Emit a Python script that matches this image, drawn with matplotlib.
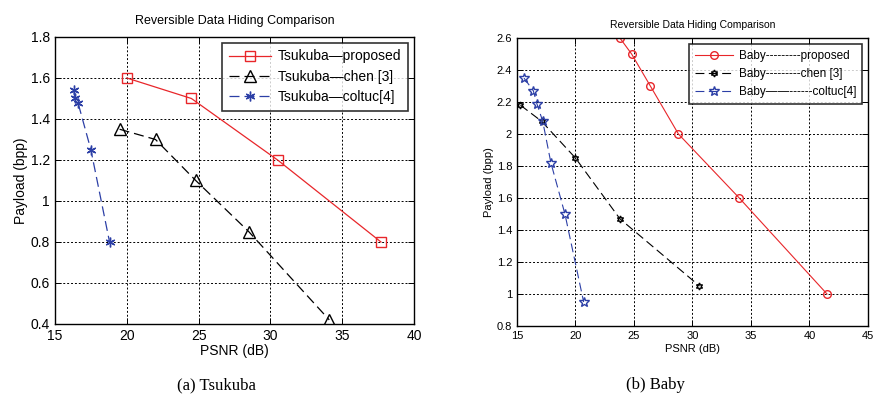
import matplotlib
matplotlib.use("Agg")
import matplotlib.pyplot as plt

# ---- data: (a) Tsukuba ----
ts_prop_x = [20.0, 24.5, 30.5, 37.7]
ts_prop_y = [1.6, 1.5, 1.2, 0.8]
ts_chen_x = [19.5, 22.0, 24.8, 28.5, 34.1]
ts_chen_y = [1.35, 1.30, 1.10, 0.85, 0.42]
ts_colt_x = [16.3, 16.4, 16.6, 17.5, 18.8]
ts_colt_y = [1.54, 1.50, 1.48, 1.25, 0.80]
ts_xticks = [15, 20, 25, 30, 35, 40]
ts_yticks = [0.4, 0.6, 0.8, 1.0, 1.2, 1.4, 1.6, 1.8]
ts_yticklabels = ["0.4", "0.6", "0.8", "1", "1.2", "1.4", "1.6", "1.8"]
ts_labels = ["Tsukuba\u2014proposed", "Tsukuba\u2014chen [3]", "Tsukuba\u2014coltuc[4]"]

# ---- data: (b) Baby ----
bb_prop_x = [23.8, 24.8, 26.4, 28.8, 34.0, 41.5]
bb_prop_y = [2.6, 2.5, 2.3, 2.0, 1.6, 1.0]
bb_chen_x = [15.3, 17.1, 20.0, 23.8, 30.6]
bb_chen_y = [2.18, 2.08, 1.85, 1.47, 1.05]
bb_colt_x = [15.6, 16.4, 16.7, 17.2, 17.9, 19.1, 20.7]
bb_colt_y = [2.35, 2.27, 2.19, 2.08, 1.82, 1.50, 0.95]
bb_xticks = [15, 20, 25, 30, 35, 40, 45]
bb_yticks = [0.8, 1.0, 1.2, 1.4, 1.6, 1.8, 2.0, 2.2, 2.4, 2.6]
bb_yticklabels = ["0.8", "1", "1.2", "1.4", "1.6", "1.8", "2", "2.2", "2.4", "2.6"]
bb_labels = ["Baby---------proposed", "Baby---------chen [3]", "Baby\u2014\u2014------coltuc[4]"]

title = "Reversible Data Hiding Comparison"
captions = ["(a) Tsukuba", "(b) Baby"]

plt.rcParams["font.family"] = ["Liberation Sans", "DejaVu Sans"]

fig = plt.figure(figsize=(8.74, 4.12), dpi=100)

red = "#e8262a"
blue = "#2c3fa6"

def style(ax, xt, yt, ytl, xlim, ylim, fs):
    ax.set_xlim(*xlim)
    ax.set_ylim(*ylim)
    ax.set_xticks(xt)
    ax.set_xticklabels([str(v) for v in xt])
    ax.set_yticks(yt)
    ax.set_yticklabels(ytl)
    ax.grid(True, color="black", linestyle=(0, (2, 2)), linewidth=0.7)
    ax.tick_params(direction="in", top=True, right=True, labelsize=fs, length=4, width=0.7)
    for s in ax.spines.values():
        s.set_linewidth(1.0)
    ax.set_axisbelow(True)

# Left panel
ax1 = fig.add_axes([0.0629, 0.2136, 0.4108, 0.6966])
ax1.plot(ts_prop_x, ts_prop_y, color=red, lw=0.9, marker="s", ms=7, mfc="none", mec=red, mew=1.0, label=ts_labels[0])
ax1.plot(ts_chen_x, ts_chen_y, color="black", lw=0.9, ls=(0, (8, 4)), marker="^", ms=8, mfc="none", mec="black", mew=1.0, label=ts_labels[1])
ax1.plot(ts_colt_x, ts_colt_y, color=blue, lw=0.9, ls=(0, (8, 4)), marker=(6, 2, 0), ms=7, mec=blue, mew=1.0, label=ts_labels[2])
style(ax1, ts_xticks, ts_yticks, ts_yticklabels, (15, 40), (0.4, 1.8), 10)
ax1.set_title(title, fontsize=9, pad=9)
ax1.set_xlabel("PSNR (dB)", fontsize=10, labelpad=1)
ax1.set_ylabel("Payload (bpp)", fontsize=10, labelpad=2)
leg1 = ax1.legend(loc="upper right", fontsize=10, frameon=True, fancybox=False, edgecolor="black",
                  borderaxespad=0.4, handlelength=3.0, handletextpad=0.5, labelspacing=0.45, borderpad=0.5)
leg1.get_frame().set_linewidth(1.2)

# Right panel
ax2 = fig.add_axes([0.5915, 0.2087, 0.4016, 0.699])
ax2.plot(bb_prop_x, bb_prop_y, color=red, lw=0.8, marker="o", ms=5.5, mfc="none", mec=red, mew=1.0, label=bb_labels[0])
ax2.plot(bb_chen_x, bb_chen_y, color="black", lw=0.8, ls=(0, (8, 4)), marker=(6, 1, 0), ms=5, mfc="none", mec="black", mew=1.0, label=bb_labels[1])
ax2.plot(bb_colt_x, bb_colt_y, color=blue, lw=0.8, ls=(0, (8, 4)), marker="*", ms=7.5, mfc="none", mec=blue, mew=1.0, label=bb_labels[2])
style(ax2, bb_xticks, bb_yticks, bb_yticklabels, (15, 45), (0.8, 2.6), 8)
ax2.set_title(title, fontsize=7.5, pad=7)
ax2.set_xlabel("PSNR (dB)", fontsize=8, labelpad=2)
ax2.set_ylabel("Payload (bpp)", fontsize=8, labelpad=2)
leg2 = ax2.legend(loc="upper right", fontsize=8.5, frameon=True, fancybox=False, edgecolor="black",
                  borderaxespad=0.5, handlelength=3.2, handletextpad=0.5, labelspacing=0.5, borderpad=0.5)
leg2.get_frame().set_linewidth(1.2)

fig.text(0.248, 0.065, captions[0], fontsize=12, family=["Liberation Serif"], ha="center", va="center")
fig.text(0.75, 0.065, captions[1], fontsize=12, family=["Liberation Serif"], ha="center", va="center")

fig.savefig("out.png", dpi=100)
